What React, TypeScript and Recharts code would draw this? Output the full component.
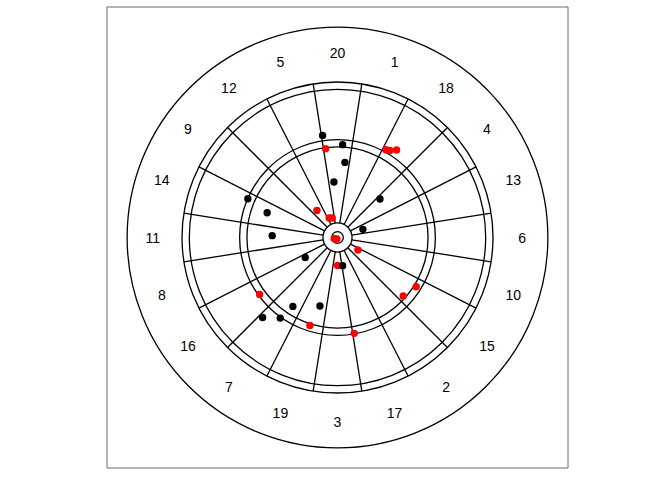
import React from "react";
import {
  ScatterChart,
  Scatter,
  XAxis,
  YAxis,
  ReferenceLine,
  ReferenceArea,
} from "recharts";

// Board geometry (mm)
const LIM = 252;
const ringRadii = [6.35, 15.9, 99, 107, 162, 170, 230];
const wireInner = 15.9;
const wireOuter = 170;
const labelRadius = 202;
const sectorNumbers = [20, 1, 18, 4, 13, 6, 10, 15, 2, 17, 3, 19, 7, 16, 8, 11, 14, 9, 12, 5];

// Dart positions (mm from the bull)
const redX = [-13.0, 52.9, 57.3, 64.6, -22.5, -9.1, -5.8, -3.6, -0.7, 22.3, 0.1, 86.0, 71.8, -85.2, -30.2, 18.3];
const redY = [97.1, 96.0, 95.2, 95.7, 29.6, 21.3, 21.3, -1.0, -1.6, -13.7, -30.5, -53.8, -64.0, -62.2, -96.1, -104.8];
const blackX = [-16.3, 5.6, 8.1, -3.9, 46.4, -98.0, -76.9, -71.4, 27.8, -35.3, 5.6, -19.2, -48.8, -62.6, -81.9];
const blackY = [111.6, 101.5, 82.1, 60.7, 42.1, 42.4, 27.1, 2.0, 8.9, -21.8, -30.8, -74.9, -75.3, -88.1, -87.4];

const W = 672;
const H = 480;
const MARGIN = { top: 7, left: 107, right: 104, bottom: 12 };
const PLOT = W - MARGIN.left - MARGIN.right; // 461
const K = PLOT / (2 * LIM);

const redData = redX.map((x, i) => ({ x, y: redY[i] }));
const blackData = blackX.map((x, i) => ({ x, y: blackY[i] }));
const ringData = ringRadii.map((r) => ({ x: 0, y: 0, r }));
const labelData = sectorNumbers.map((n, i) => {
  const a = ((90 - 18 * i) * Math.PI) / 180;
  return { x: labelRadius * Math.cos(a), y: labelRadius * Math.sin(a), n };
});
const wires = Array.from({ length: 20 }, (_, k) => {
  const a = ((9 + 18 * k) * Math.PI) / 180;
  return [
    { x: wireInner * Math.cos(a), y: wireInner * Math.sin(a) },
    { x: wireOuter * Math.cos(a), y: wireOuter * Math.sin(a) },
  ];
});

const RingShape = (p: any) => (
  <circle cx={p.cx} cy={p.cy} r={p.payload.r * K} fill="none" stroke="#000" strokeWidth={1.3} />
);
const LabelShape = (p: any) => (
  <text
    x={p.cx}
    y={p.cy}
    textAnchor="middle"
    dominantBaseline="central"
    fontSize={14}
    fontFamily="Liberation Sans, Arial, sans-serif"
    fill="#000"
  >
    {p.payload.n}
  </text>
);
const dot = (color: string) => (p: any) => <circle cx={p.cx} cy={p.cy} r={3.7} fill={color} />;

export default function App() {
  return (
    <div style={{ position: "absolute", left: 0, top: 0, width: W, height: H, background: "#fff" }}>
      <ScatterChart width={W} height={H} margin={MARGIN}>
        <XAxis type="number" dataKey="x" domain={[-LIM, LIM]} allowDataOverflow hide />
        <YAxis type="number" dataKey="y" domain={[-LIM, LIM]} allowDataOverflow hide />
        <ReferenceArea x1={-LIM} x2={LIM} y1={-LIM} y2={LIM} fill="none" stroke="#6b6b6b" strokeWidth={1} />
        {wires.map((seg, i) => (
          <ReferenceLine key={i} segment={seg} stroke="#000" strokeWidth={1.3} />
        ))}
        <Scatter data={ringData} shape={RingShape} isAnimationActive={false} />
        <Scatter data={labelData} shape={LabelShape} isAnimationActive={false} />
        <Scatter data={redData} shape={dot("#ff0000")} isAnimationActive={false} />
        <Scatter data={blackData} shape={dot("#000000")} isAnimationActive={false} />
      </ScatterChart>
    </div>
  );
}
